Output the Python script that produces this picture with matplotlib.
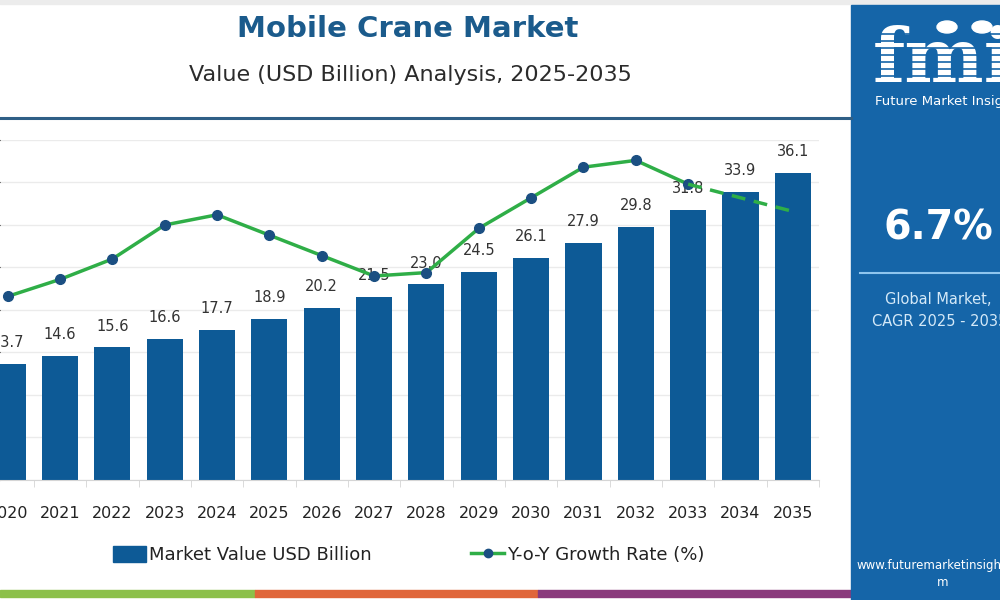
import matplotlib
matplotlib.use('Agg')
import matplotlib.pyplot as plt
from matplotlib.patches import Rectangle, Circle
from matplotlib.lines import Line2D
import numpy as np

# data
years = ['2020', '2021', '2022', '2023', '2024', '2025', '2026', '2027',
         '2028', '2029', '2030', '2031', '2032', '2033', '2034', '2035']
market_value = [13.7, 14.6, 15.6, 16.6, 17.7, 18.9, 20.2, 21.5,
                23.0, 24.5, 26.1, 27.9, 29.8, 31.8, 33.9, 36.1]
growth_rate = [5.4, 5.9, 6.5, 7.5, 7.8, 7.2, 6.6, 6.0,
               6.1, 7.4, 8.3, 9.2, 9.4, 8.7, 8.3, 7.9]
cagr_text = '6.7%'

BAR_BLUE = '#0d5a96'
GREEN = '#2fae47'
MARKER_BLUE = '#1b4f82'
PANEL_BLUE = '#1565a8'

fig = plt.figure(figsize=(10, 6), dpi=100)
fig.patch.set_facecolor('white')


def fy(y):
    # pixel row -> figure fraction
    return 1 - y / 600


# light strip at very top
fig.add_artist(Rectangle((0, fy(4)), 1, 4 / 600, transform=fig.transFigure,
                         color='#ececec', zorder=0))

# main chart
ax = fig.add_axes([0, 0.2, 0.819, 0.5667])
x = np.arange(len(years))
bars = ax.bar(x, market_value, width=0.69, color=BAR_BLUE, zorder=2)
ax.bar_label(bars, labels=['%.1f' % v for v in market_value], padding=10,
             fontsize=10.5, color='#333333')
ax.set_yticks(np.arange(0, 41, 5))
ax.yaxis.grid(True, color='#ebebeb', lw=1)
ax.set_axisbelow(True)
for s in ['left', 'right', 'top']:
    ax.spines[s].set_visible(False)
ax.spines['bottom'].set_color('#d5d5d5')
ax.tick_params(axis='y', left=False, labelleft=False)
ax.set_xticks(x)
ax.set_xticklabels(years, fontsize=11.5, color='#222222')
ax.set_xticks(np.arange(-0.5, len(years), 1), minor=True)
ax.tick_params(axis='x', which='major', length=0, pad=19)
ax.tick_params(axis='x', which='minor', length=5, color='#d5d5d5')
# the reference is cropped on the left, through the 2020 bar
ax.set_xlim(-0.147, len(years) - 0.5)
ax.set_ylim(0, 40)

# growth line on a hidden second axis
ax2 = ax.twinx()
ax2.set_ylim(0, 10)
ax2.axis('off')
ax2.plot(x[:14], growth_rate[:14], color=GREEN, lw=2.5, marker='o', ms=7,
         mfc=MARKER_BLUE, mec=MARKER_BLUE, zorder=3)
ax2.plot(x[13:], growth_rate[13:], color=GREEN, lw=2.5, ls=(0, (4, 2.5)), zorder=3)

# legend
handles = [Rectangle((0, 0), 1, 1, color=BAR_BLUE),
           Line2D([], [], color=GREEN, lw=2.5, marker='o', ms=6,
                  mfc=MARKER_BLUE, mec=MARKER_BLUE)]
fig.legend(handles, ['Market Value USD Billion', 'Y-o-Y Growth Rate (%)'],
           loc='center', bbox_to_anchor=(0.409, 0.075), ncol=2, frameon=False,
           fontsize=13, columnspacing=5.5, handlelength=1.8, handleheight=1.0,
           handletextpad=0.2, labelcolor='#222222')

# titles
fig.text(0.408, fy(29), 'Mobile Crane Market', ha='center', va='center',
         fontsize=21, fontweight='bold', color='#1b5b8c')
fig.text(0.410, fy(75), 'Value (USD Billion) Analysis, 2025-2035', ha='center',
         va='center', fontsize=16, color='#2b2b2b')
fig.add_artist(Line2D([0, 0.851], [fy(118), fy(118)], color='#2f5f86', lw=2.2))

# footer stripes
stripe_h = 7 / 600
for x0, x1, c in [(0, 0.255, '#8cc04a'), (0.255, 0.538, '#e0663a'), (0.538, 0.851, '#8a3a7c')]:
    fig.add_artist(Rectangle((x0, fy(597)), x1 - x0, stripe_h,
                             transform=fig.transFigure, color=c, zorder=1))

# right side panel (cropped at the right edge, as in the reference)
fig.add_artist(Rectangle((0.851, 0), 0.149, fy(5), transform=fig.transFigure,
                         color=PANEL_BLUE, zorder=1))
fig.text(0.873, fy(62), 'fmi', ha='left', va='center', fontsize=54,
         fontweight='bold', family='DejaVu Serif', color='white', zorder=5)
for yy in np.arange(34, 94, 7):
    fig.add_artist(Line2D([0.86, 1.0], [fy(yy), fy(yy)], color=PANEL_BLUE,
                          lw=1.2, zorder=6))
for cx in [0.947, 0.982]:
    fig.add_artist(Circle((cx, fy(27)), 0.01, transform=fig.transFigure,
                          color='white', zorder=7))
fig.text(0.875, fy(101), 'Future Market Insights', ha='left', va='center',
         fontsize=9.5, color='white', zorder=5)
fig.text(0.938, fy(228), cagr_text, ha='center', va='center', fontsize=28.5,
         fontweight='bold', color='white', zorder=5)
fig.add_artist(Line2D([0.86, 1.0], [fy(273), fy(273)], color='#8ec5ee',
                      lw=1.5, zorder=5))
fig.text(0.938, fy(300), 'Global Market,', ha='center', va='center',
         fontsize=10.5, color='#d4e9f8', zorder=5)
fig.text(0.940, fy(321), 'CAGR 2025 - 2035', ha='center', va='center',
         fontsize=10.5, color='#d4e9f8', zorder=5)
fig.text(0.943, fy(566), 'www.futuremarketinsights.co', ha='center',
         va='center', fontsize=8.5, color='white', zorder=5)
fig.text(0.943, fy(582), 'm', ha='center', va='center', fontsize=8.5,
         color='white', zorder=5)

fig.savefig('out.png', dpi=100)
